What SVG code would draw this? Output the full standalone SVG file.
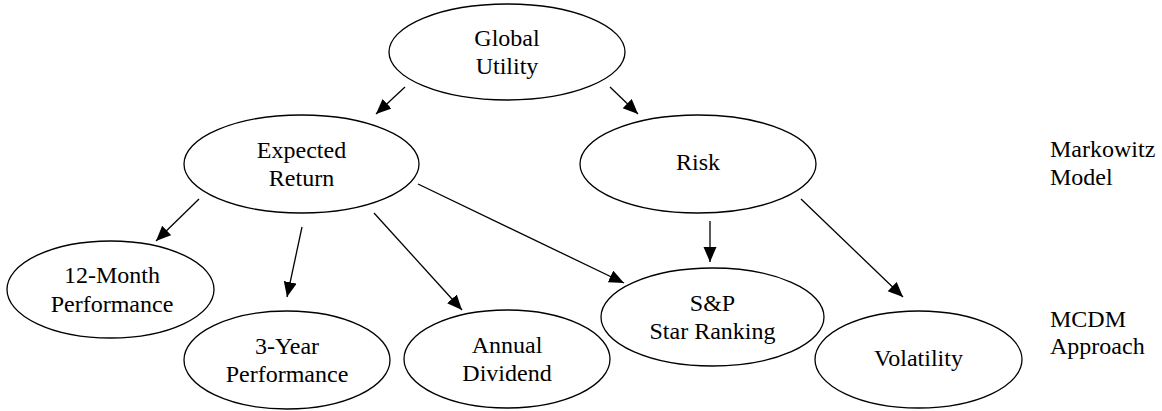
<svg xmlns="http://www.w3.org/2000/svg" width="1162" height="411" viewBox="0 0 1162 411" font-family="'Liberation Serif', serif" font-size="24">
<defs>
<marker id="arrow" markerUnits="userSpaceOnUse" markerWidth="16" markerHeight="14" refX="15" refY="6.5" orient="auto">
<path d="M0,0 L15,6.5 L0,13 Z" fill="#000"/>
</marker>
<style>
.node ellipse{fill:#fff;stroke:#000;stroke-width:1.3}
text{font-family:'Liberation Serif',serif;font-size:24px;fill:#000}
.node text{text-anchor:middle}
.edges line{stroke:#000;stroke-width:1.3;marker-end:url(#arrow)}
</style>
</defs>
<rect width="1162" height="411" fill="#fff"/>
<g class="edges" id="connectors">
<line x1="405" y1="87" x2="376" y2="114"/>
<line x1="610" y1="87" x2="638" y2="114"/>
<line x1="199" y1="199" x2="156" y2="241"/>
<line x1="302" y1="227" x2="287" y2="297"/>
<line x1="374" y1="213" x2="462" y2="310"/>
<line x1="418" y1="184" x2="624" y2="283"/>
<line x1="710" y1="221" x2="710" y2="262"/>
<line x1="801" y1="199" x2="903" y2="297"/>
</g>
<g class="node" id="global-utility">
<ellipse cx="507" cy="52" rx="118" ry="48"/>
<text x="507" y="46">Global</text>
<text x="507" y="74">Utility</text>
</g>
<g class="node" id="expected-return">
<ellipse cx="301.5" cy="164" rx="117.5" ry="49"/>
<text x="301.5" y="158">Expected</text>
<text x="301.5" y="186">Return</text>
</g>
<g class="node" id="risk">
<ellipse cx="698" cy="164" rx="118" ry="49"/>
<text x="698" y="170">Risk</text>
</g>
<g class="node" id="twelve-month">
<ellipse cx="110.5" cy="289.5" rx="103.5" ry="48.5"/>
<text x="112" y="283">12-Month</text>
<text x="112" y="312">Performance</text>
</g>
<g class="node" id="three-year">
<ellipse cx="287" cy="360" rx="103" ry="49"/>
<text x="287" y="354">3-Year</text>
<text x="287" y="382">Performance</text>
</g>
<g class="node" id="annual-dividend">
<ellipse cx="507" cy="359" rx="103" ry="49"/>
<text x="507" y="353">Annual</text>
<text x="507" y="381">Dividend</text>
</g>
<g class="node" id="sp-star-ranking">
<ellipse cx="712.5" cy="317" rx="111.5" ry="49"/>
<text x="712.5" y="311">S&amp;P</text>
<text x="712.5" y="339">Star Ranking</text>
</g>
<g class="node" id="volatility">
<ellipse cx="918.5" cy="359.5" rx="103.5" ry="48.5"/>
<text x="918.5" y="366">Volatility</text>
</g>
<g id="side-labels">
<text x="1050" y="157">Markowitz</text>
<text x="1050" y="185">Model</text>
<text x="1050" y="327">MCDM</text>
<text x="1050" y="354">Approach</text>
</g>
</svg>
